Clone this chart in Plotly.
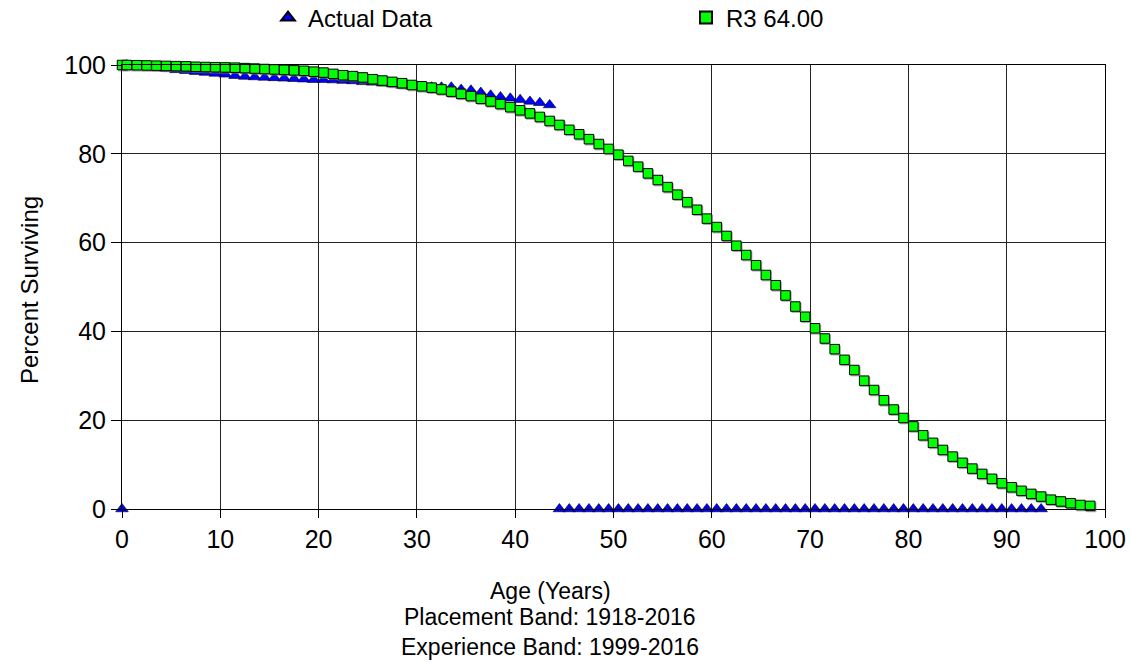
import plotly.graph_objects as go

# ---------------- data ----------------
actual_ages = [0, 0.5, 1.5, 2.5, 3.5, 4.5, 5.5, 6.5, 7.5, 8.5, 9.5, 10.5, 11.5, 12.5, 13.5, 14.5,
               15.5, 16.5, 17.5, 18.5, 19.5, 20.5, 21.5, 22.5, 23.5, 24.5, 25.5, 26.5, 27.5, 28.5,
               29.5, 30.5, 31.5, 32.5, 33.5, 34.5, 35.5, 36.5, 37.5, 38.5, 39.5, 40.5, 41.5, 42.5,
               43.5, 44.5, 45.5, 46.5, 47.5, 48.5, 49.5, 50.5, 51.5, 52.5, 53.5, 54.5, 55.5, 56.5,
               57.5, 58.5, 59.5, 60.5, 61.5, 62.5, 63.5, 64.5, 65.5, 66.5, 67.5, 68.5, 69.5, 70.5,
               71.5, 72.5, 73.5, 74.5, 75.5, 76.5, 77.5, 78.5, 79.5, 80.5, 81.5, 82.5, 83.5, 84.5,
               85.5, 86.5, 87.5, 88.5, 89.5, 90.5, 91.5, 92.5, 93.5]
actual_pct = [0, 100.0, 99.9, 99.7, 99.5, 99.2, 98.9, 98.7, 98.5, 98.3, 98.1, 97.9, 97.6, 97.4,
              97.3, 97.2, 97.1, 97.0, 96.9, 96.8, 96.7, 96.7, 96.6, 96.5, 96.4, 96.2, 96.1, 95.9,
              95.7, 95.4, 95.2, 95.1, 95.0, 95.0, 95.0, 94.5, 94.3, 93.8, 93.2, 92.8, 92.5, 92.2,
              91.8, 91.5, 91.0,
              0, 0, 0, 0, 0, 0, 0, 0, 0, 0, 0, 0, 0, 0, 0, 0, 0, 0, 0, 0, 0, 0, 0, 0, 0,
              0, 0, 0, 0, 0, 0, 0, 0, 0, 0, 0, 0, 0, 0, 0, 0, 0, 0, 0, 0, 0, 0, 0, 0, 0]

curve_ages = [0, 0.5, 1.5, 2.5, 3.5, 4.5, 5.5, 6.5, 7.5, 8.5, 9.5, 10.5, 11.5, 12.5, 13.5, 14.5,
              15.5, 16.5, 17.5, 18.5, 19.5, 20.5, 21.5, 22.5, 23.5, 24.5, 25.5, 26.5, 27.5, 28.5,
              29.5, 30.5, 31.5, 32.5, 33.5, 34.5, 35.5, 36.5, 37.5, 38.5, 39.5, 40.5, 41.5, 42.5,
              43.5, 44.5, 45.5, 46.5, 47.5, 48.5, 49.5, 50.5, 51.5, 52.5, 53.5, 54.5, 55.5, 56.5,
              57.5, 58.5, 59.5, 60.5, 61.5, 62.5, 63.5, 64.5, 65.5, 66.5, 67.5, 68.5, 69.5, 70.5,
              71.5, 72.5, 73.5, 74.5, 75.5, 76.5, 77.5, 78.5, 79.5, 80.5, 81.5, 82.5, 83.5, 84.5,
              85.5, 86.5, 87.5, 88.5, 89.5, 90.5, 91.5, 92.5, 93.5, 94.5, 95.5, 96.5, 97.5, 98.5]
curve_pct = [100.0, 100.0, 99.95, 99.9, 99.85, 99.8, 99.75, 99.7, 99.6, 99.55, 99.5, 99.45, 99.4,
             99.3, 99.2, 99.1, 99.0, 98.9, 98.8, 98.7, 98.5, 98.3, 98.0, 97.7, 97.5, 97.2, 96.8,
             96.5, 96.2, 95.9, 95.5, 95.2, 94.9, 94.5, 94.0, 93.5, 93.0, 92.4, 91.8, 91.2, 90.5,
             89.8, 89.1, 88.3, 87.4, 86.5, 85.4, 84.4, 83.3, 82.2, 81.1, 79.8, 78.4, 77.1, 75.6,
             74.1, 72.5, 70.8, 69.1, 67.4, 65.4, 63.5, 61.5, 59.3, 57.2, 54.9, 52.7, 50.4, 48.1,
             45.6, 43.3, 40.7, 38.4, 36.0, 33.6, 31.3, 28.9, 26.8, 24.5, 22.4, 20.5, 18.6, 16.6,
             14.9, 13.3, 11.8, 10.4, 9.1, 7.9, 6.8, 5.8, 4.9, 4.1, 3.4, 2.8, 2.1, 1.7, 1.3, 0.9, 0.7]

x_ticks = [0, 10, 20, 30, 40, 50, 60, 70, 80, 90, 100]
y_ticks = [0, 20, 40, 60, 80, 100]
series_names = ["Actual Data", "R3 64.00"]
x_title_lines = ["Age (Years)", "Placement Band: 1918-2016", "Experience Band: 1999-2016"]
y_title = "Percent Surviving"

FONT = "Liberation Sans, Arial, sans-serif"

fig = go.Figure()

fig.add_trace(go.Scatter(
    x=actual_ages, y=actual_pct, mode="markers", name=series_names[0],
    marker=dict(symbol="triangle-up", size=11, color="#0000FF",
                line=dict(color="#000000", width=0.6)),
    cliponaxis=False,
))

# subtle drop shadow under the squares
fig.add_trace(go.Scatter(
    x=[a + 0.12 for a in curve_ages], y=[v - 0.3 for v in curve_pct], mode="markers",
    showlegend=False, hoverinfo="skip",
    marker=dict(symbol="square", size=10, color="rgba(110,110,110,0.6)", line=dict(width=0)),
    cliponaxis=False,
))

fig.add_trace(go.Scatter(
    x=curve_ages, y=curve_pct, mode="markers", name=series_names[1],
    marker=dict(symbol="square", size=9.5, color="#00FF00",
                line=dict(color="#000000", width=1)),
    cliponaxis=False,
))

L, R, T, B = 122, 25, 65, 160
W = 1130 - L - R
H = 669 - T - B

fig.update_layout(
    width=1130, height=669,
    margin=dict(l=L, r=R, t=T, b=B, autoexpand=False),
    paper_bgcolor="white", plot_bgcolor="white",
    font=dict(family=FONT, size=23, color="#000000"),
    showlegend=True,
    legend=dict(orientation="h", x=(268 - L) / W, xanchor="left", y=(509 - 18) / H, yanchor="middle",
                font=dict(size=24), entrywidth=373, entrywidthmode="pixels",
                bgcolor="rgba(0,0,0,0)", itemsizing="constant"),
    xaxis=dict(range=[0, 100], tickvals=x_ticks, showgrid=True, gridcolor="#222222", gridwidth=1,
               zeroline=False, showline=True, linecolor="#000000", linewidth=1, mirror=True,
               ticks="outside", ticklen=8, tickcolor="#000000", tickfont=dict(size=25)),
    yaxis=dict(range=[0, 100], tickvals=y_ticks, showgrid=True, gridcolor="#222222", gridwidth=1,
               zeroline=False, showline=True, linecolor="#000000", linewidth=1, mirror=True,
               ticks="outside", ticklen=10, tickcolor="#000000", tickfont=dict(size=25)),
)

# y-axis title
fig.add_annotation(text=y_title, xref="paper", yref="paper",
                   x=(29 - L) / W, y=(509 - 290) / H, textangle=-90,
                   xanchor="center", yanchor="middle", showarrow=False,
                   font=dict(size=24, family=FONT))

# x-axis title lines
for line_text, ypx in zip(x_title_lines, [591, 617, 647]):
    fig.add_annotation(text=line_text, xref="paper", yref="paper",
                       x=(550 - L) / W, y=(509 - ypx) / H,
                       xanchor="center", yanchor="middle", showarrow=False,
                       font=dict(size=23, family=FONT))

fig.write_html("out.html")
